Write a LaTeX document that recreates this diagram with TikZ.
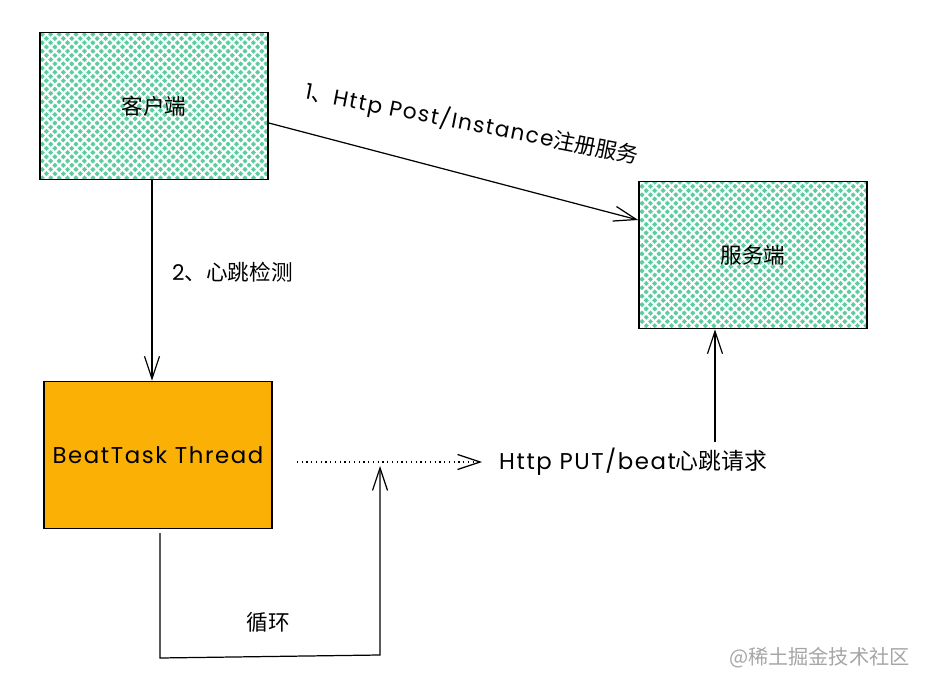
\documentclass[tikz,border=0pt]{standalone}
\usepackage{fontspec}
\setmainfont{Noto Sans CJK SC}
\newfontfamily\latinfont[LetterSpace=7]{Poppins}
\usepackage{tikz}
\usetikzlibrary{arrows.meta}
\usetikzlibrary{patterns.meta,
                positioning,
                calc}
\definecolor{mint}{RGB}{92,204,160}
\definecolor{beatorange}{RGB}{250,176,5}

\begin{document}
\begin{tikzpicture}[
        x=0.02cm, y=-0.02cm,
        every node/.style={font=\fontsize{12.3}{14}\selectfont},
        box/.style={draw, line width=0.9pt, minimum width=4.56cm, minimum height=2.94cm, align=center},
        hatched/.style={box, preaction={fill=mint},
            preaction={pattern={Lines[angle=45, distance=3.4pt, line width=1.2pt]}, pattern color=white},
            preaction={pattern={Lines[angle=-45, distance=3.4pt, line width=1.2pt]}, pattern color=white}},
        sketch/.style={-{Straight Barb[length=4.5mm, width=3mm]}, line width=0.7pt},
        lbl/.style={font=\fontsize{13}{15}\selectfont}
        ]
        \useasboundingbox[fill=white] (0,0) rectangle (937,689);

        % Nodes
        \node[hatched] (client) at (154,106) {客户端};
        \node[hatched] (server) at (753,255) {服务端};
        \node[box, fill=beatorange, lbl] (beat) at (158,455) {{\latinfont BeatTask Thread}};
        \node[lbl, anchor=west] (putlabel) at (493,462) {{\latinfont Http PUT/beat}心跳请求};
        \node[anchor=west] (checklabel) at (166,272) {{\latinfont 2}、心跳检测};
        \node (looplabel) at (268,622) {循环};
        \node[text=gray!70, font=\fontsize{11.5}{14}\selectfont, anchor=east] (mark) at (916,658) {@稀土掘金技术社区};
        \node[font=\fontsize{12.3}{15}\selectfont, rotate=-11] (postlabel) at (472,124) {{\latinfont 1}、{\latinfont Http Post/Instance}注册服务};

        % Loop corners
        \coordinate (loopa) at (160,533);
        \coordinate (loopb) at (160,658);
        \coordinate (loopc) at (380,655);
        \coordinate (loopd) at (380,466);
        \coordinate (dota) at (297,462);
        \coordinate (dotb) at (482,462);

        % Arrows
        \draw[sketch] (client.east |- 0,123) -- (server.west |- 0,220);
        \draw[sketch] (client.south -| 152,0) -- (beat.north -| 152,0);
        \draw[sketch, dotted] (dota) -- (dotb);
        \draw[sketch] (putlabel.north -| 715,0) -- (server.south -| 715,0);
        \draw[sketch] (loopa) -- (loopb) -- (loopc) -- (loopd);

        \end{tikzpicture}
\end{document}
